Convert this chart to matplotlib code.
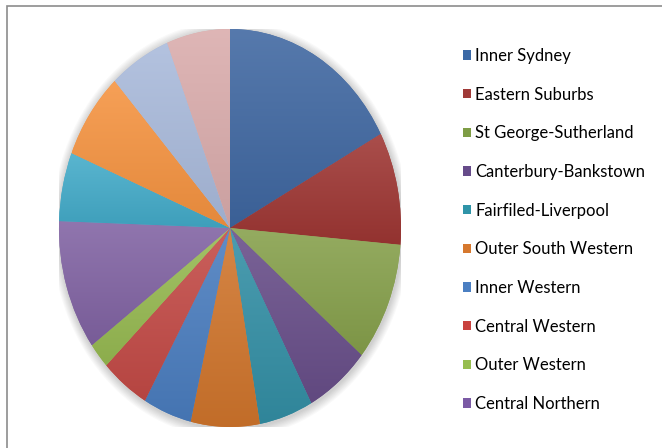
import numpy as np
import matplotlib.pyplot as plt
from matplotlib.colors import to_rgb
from matplotlib.patches import Rectangle, Patch, Ellipse

# Sydney sub-regions, clockwise from 12 o'clock (percent shares)
regions = ['Inner Sydney', 'Eastern Suburbs', 'St George-Sutherland',
           'Canterbury-Bankstown', 'Fairfiled-Liverpool', 'Outer South Western',
           'Inner Western', 'Central Western', 'Outer Western', 'Central Northern',
           'Lower Northern', 'Blacktown', 'Northern Beaches', 'Gosford-Wyong']
shares = [17.2, 9.2, 9.7, 6.1, 5.1, 6.5, 4.6, 4.6, 2.1, 10.6, 5.6, 7.1, 5.8, 6.0]
colors = ['#3f67a1', '#9e3633', '#86a04b', '#684e89', '#338fa5', '#d0752c',
          '#4a7dbf', '#c34a46', '#97ba52', '#8163a3', '#43abc9', '#f59340',
          '#a9badb', '#daacac']
swatch = ['#3b69a6', '#a03a38', '#7e9d45', '#664b8a', '#2f94a8', '#d6782e',
          '#4b7fc2', '#c9423f', '#97be4f', '#7b5aa5']
shown = 10  # legend runs out of room after ten entries

fig = plt.figure(figsize=(6.62, 4.48), dpi=100)
fig.patch.set_facecolor('white')

# chart area border (runs off the right and bottom of the image)
fig.patches.append(Rectangle((7 / 662, -0.1), 1.0, 1 - 6 / 448 + 0.1,
                             transform=fig.transFigure, fill=False,
                             edgecolor='#8c8c8c', linewidth=1.2))

ax = fig.add_axes([59 / 662, 21 / 448, 342 / 662, 398 / 448])

# soft shadow round the pie
for k in range(8):
    s = 1.0 + 0.006 * (k + 1)
    ax.add_patch(Ellipse((0.004, -0.008), 2 * s, 2 * s, facecolor='black',
                         edgecolor='none', alpha=0.025, zorder=0))

wedges, _ = ax.pie(shares, colors=colors, startangle=90, counterclock=False,
                   wedgeprops=dict(edgecolor='none', linewidth=0))


def mix(c, other, t):
    a = np.array(to_rgb(c))
    return (1 - t) * a + t * np.array(other)


# light-to-dark shading on each slice
for w, c in zip(wedges, colors):
    bb = w.get_path().get_extents()
    top = mix(c, (1, 1, 1), 0.12)
    bot = mix(c, (0, 0, 0), 0.07)
    grad = np.linspace(0, 1, 64)[:, None, None]
    img = top[None, None, :] * (1 - grad) + bot[None, None, :] * grad
    im = ax.imshow(img, extent=(bb.x0, bb.x1, bb.y0, bb.y1), origin='upper',
                   aspect='auto', interpolation='bilinear', zorder=2)
    im.set_clip_path(w)
    w.set_zorder(1)

ax.set_aspect('auto')
ax.set_xlim(-1, 1)
ax.set_ylim(-1, 1)
ax.axis('off')

handles = [Patch(facecolor=c, edgecolor='none') for c in swatch[:shown]]
fig.legend(handles, regions[:shown], loc='upper left',
           bbox_to_anchor=(463 / 662, 1 - 48 / 448),
           frameon=False, labelspacing=1.36,
           handlelength=0.48, handleheight=0.48, handletextpad=0.26,
           borderpad=0, borderaxespad=0,
           prop={'family': 'Lato', 'size': 12})

fig.savefig('out.png', dpi=100)
